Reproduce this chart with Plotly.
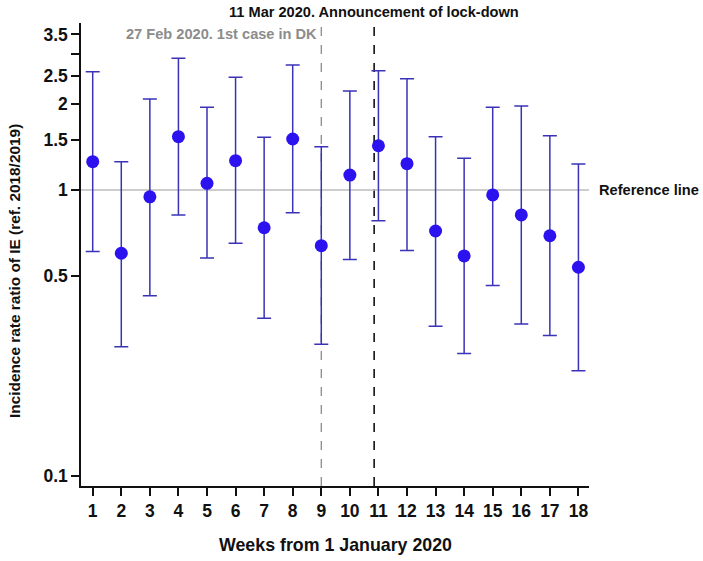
import plotly.graph_objects as go

weeks = list(range(1, 19))
irr = [1.256, 0.601, 0.947, 1.536, 1.055, 1.266, 0.738, 1.508, 0.639,
       1.128, 1.428, 1.236, 0.719, 0.588, 0.961, 0.818, 0.692, 0.537]
upper = [2.59, 1.256, 2.08, 2.89, 1.946, 2.48, 1.529, 2.735, 1.417,
         2.22, 2.61, 2.45, 1.536, 1.291, 1.946, 1.967, 1.548, 1.233]
lower = [0.610, 0.283, 0.427, 0.818, 0.578, 0.651, 0.356, 0.833, 0.289,
         0.572, 0.781, 0.615, 0.334, 0.268, 0.464, 0.340, 0.310, 0.2335]
y_tickvals = [0.1, 0.5, 1, 1.5, 2, 2.5, 3, 3.5]
y_ticktext = ["0.1", "0.5", "1", "1.5", "2", "2.5", "", "3.5"]
first_case_week = 9
lockdown_week = 10.85

FONT = "Liberation Sans, Arial, sans-serif"
PLOT_H = 463.0

err_plus = [u - v for u, v in zip(upper, irr)]
err_minus = [v - l for v, l in zip(irr, lower)]

fig = go.Figure()

# reference line
fig.add_shape(type="line", xref="x", yref="y", x0=0.59, x1=18.37, y0=1, y1=1,
              line=dict(color="#BDBDBD", width=1.3), layer="below")
# vertical dashed lines
fig.add_shape(type="line", xref="x", yref="paper", x0=first_case_week, x1=first_case_week,
              y0=0, y1=1, line=dict(color="#8C8C8C", width=1.3, dash="dash"), layer="below")
fig.add_shape(type="line", xref="x", yref="paper", x0=lockdown_week, x1=lockdown_week,
              y0=0, y1=1, line=dict(color="#111111", width=1.6, dash="dash"), layer="below")

fig.add_trace(go.Scatter(
    x=weeks, y=irr, mode="markers",
    marker=dict(color="#2B12EE", size=13, line=dict(width=0)),
    error_y=dict(type="data", symmetric=False, array=err_plus, arrayminus=err_minus,
                 color="#3A33B8", thickness=1.5, width=7),
    showlegend=False,
))

fig.add_annotation(x=lockdown_week, xref="x", y=1 + (23 - 12) / PLOT_H, yref="paper",
                   yanchor="middle",
                   text="<b>11 Mar 2020. Announcement of lock-down</b>", showarrow=False,
                   font=dict(family=FONT, size=14.6, color="#111111"))
fig.add_annotation(x=first_case_week - 0.08, xref="x", xanchor="right",
                   y=1 - (34 - 23) / PLOT_H, yref="paper", yanchor="middle",
                   text="<b>27 Feb 2020. 1st case in DK</b>", showarrow=False,
                   font=dict(family=FONT, size=14.6, color="#8C8C8C"))
fig.add_annotation(x=1, xref="paper", xshift=8, xanchor="left",
                   y=0, yref="y", yanchor="middle",
                   text="<b>Reference line</b>", showarrow=False,
                   font=dict(family=FONT, size=14.6, color="#111111"))
fig.add_annotation(x=0, xref="paper", xshift=-67, xanchor="center",
                   y=1 - (271 - 23) / PLOT_H, yref="paper", yanchor="middle",
                   text="<b>Incidence rate ratio of IE (ref. 2018/2019)</b>", textangle=-90,
                   showarrow=False, font=dict(family=FONT, size=15.4, color="#111111"))
fig.add_annotation(x=0.5, xref="paper", y=0, yref="paper", yshift=-59, yanchor="middle",
                   text="<b>Weeks from 1 January 2020</b>", showarrow=False,
                   font=dict(family=FONT, size=17.8, color="#111111"))

fig.update_layout(
    width=703, height=561,
    margin=dict(l=81, r=114, t=23, b=75),
    paper_bgcolor="white", plot_bgcolor="white",
    font=dict(family=FONT, color="#111111"),
    xaxis=dict(range=[0.59, 18.37], tickmode="array", tickvals=weeks,
               ticktext=[f"<b>{w}</b>" for w in weeks],
               ticks="outside", ticklen=8, tickwidth=1.5, tickcolor="#111111",
               showline=True, linecolor="#111111", linewidth=1.5,
               showgrid=False, zeroline=False,
               tickfont=dict(family=FONT, size=17.5, color="#111111")),
    yaxis=dict(type="log", range=[-1.035, 0.584], tickmode="array",
               tickvals=y_tickvals, ticktext=[f"<b>{t}</b>" if t else "" for t in y_ticktext],
               ticks="outside", ticklen=8, tickwidth=1.5, tickcolor="#111111",
               showline=True, linecolor="#111111", linewidth=1.5,
               showgrid=False, zeroline=False,
               tickfont=dict(family=FONT, size=17.5, color="#111111")),
)

fig.write_html("out.html", config={"displayModeBar": False},
               post_script="document.body.style.margin='0';document.body.style.overflow='hidden';")
